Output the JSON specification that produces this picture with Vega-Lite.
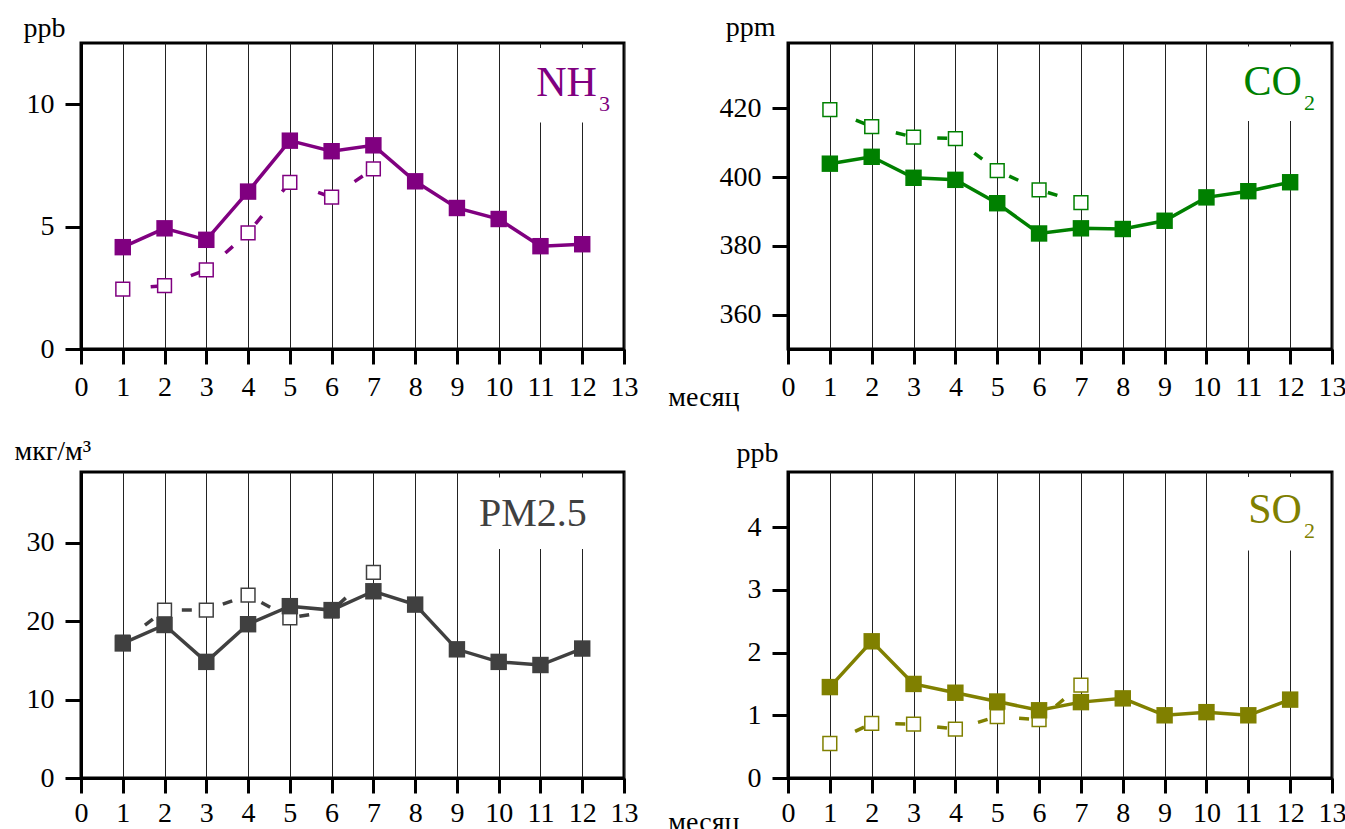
{
  "$schema": "https://vega.github.io/schema/vega-lite/v6.json",
  "background": "white",
  "padding": {"left": 12, "top": 11, "right": 0, "bottom": 0},
  "datasets": {
    "nh3": [
      {"month": 1, "s1": 4.16, "s2": 2.45}, {"month": 2, "s1": 4.93, "s2": 2.59}, {"month": 3, "s1": 4.46, "s2": 3.23},
      {"month": 4, "s1": 6.43, "s2": 4.74}, {"month": 5, "s1": 8.51, "s2": 6.81}, {"month": 6, "s1": 8.08, "s2": 6.2},
      {"month": 7, "s1": 8.32, "s2": 7.36}, {"month": 8, "s1": 6.85, "s2": null}, {"month": 9, "s1": 5.76, "s2": null},
      {"month": 10, "s1": 5.31, "s2": null}, {"month": 11, "s1": 4.2, "s2": null}, {"month": 12, "s1": 4.28, "s2": null}
    ],
    "co2": [
      {"month": 1, "s1": 403.9, "s2": 419.6}, {"month": 2, "s1": 405.9, "s2": 414.7}, {"month": 3, "s1": 399.8, "s2": 411.6},
      {"month": 4, "s1": 399.2, "s2": 411.2}, {"month": 5, "s1": 392.4, "s2": 401.9}, {"month": 6, "s1": 383.6, "s2": 396.3},
      {"month": 7, "s1": 385.1, "s2": 392.6}, {"month": 8, "s1": 384.9, "s2": null}, {"month": 9, "s1": 387.3, "s2": null},
      {"month": 10, "s1": 394.1, "s2": null}, {"month": 11, "s1": 395.9, "s2": null}, {"month": 12, "s1": 398.5, "s2": null}
    ],
    "pm25": [
      {"month": 1, "s1": 17.15, "s2": 17.3}, {"month": 2, "s1": 19.5, "s2": 21.4}, {"month": 3, "s1": 14.8, "s2": 21.4},
      {"month": 4, "s1": 19.6, "s2": 23.3}, {"month": 5, "s1": 21.9, "s2": 20.4}, {"month": 6, "s1": 21.4, "s2": 21.3},
      {"month": 7, "s1": 23.8, "s2": 26.2}, {"month": 8, "s1": 22.1, "s2": null}, {"month": 9, "s1": 16.4, "s2": null},
      {"month": 10, "s1": 14.8, "s2": null}, {"month": 11, "s1": 14.4, "s2": null}, {"month": 12, "s1": 16.5, "s2": null}
    ],
    "so2": [
      {"month": 1, "s1": 1.45, "s2": 0.55}, {"month": 2, "s1": 2.18, "s2": 0.87}, {"month": 3, "s1": 1.5, "s2": 0.86},
      {"month": 4, "s1": 1.36, "s2": 0.78}, {"month": 5, "s1": 1.22, "s2": 0.98}, {"month": 6, "s1": 1.08, "s2": 0.93},
      {"month": 7, "s1": 1.21, "s2": 1.48}, {"month": 8, "s1": 1.27, "s2": null}, {"month": 9, "s1": 1.0, "s2": null},
      {"month": 10, "s1": 1.05, "s2": null}, {"month": 11, "s1": 1.0, "s2": null}, {"month": 12, "s1": 1.25, "s2": null}
    ]
  },
  "config": {
    "font": "Liberation Serif",
    "view": {"stroke": "black", "strokeWidth": 3},
    "style": {
      "guide-label": {"font": "Liberation Serif", "fontSize": 28, "fill": "black"},
      "guide-title": {"font": "Liberation Serif", "fontSize": 28, "fontWeight": "normal", "fill": "black"}
    },
    "axis": {
      "labelFont": "Liberation Serif", "labelFontSize": 28, "labelColor": "black",
      "titleFont": "Liberation Serif", "titleFontSize": 28, "titleFontWeight": "normal", "titleColor": "black",
      "tickColor": "black", "tickWidth": 3, "domainColor": "black", "domainWidth": 3,
      "gridColor": "#222222", "gridWidth": 1, "labelOverlap": false, "labelFlush": false
    },
    "axisX": {"tickSize": 15, "orient": "bottom"},
    "axisY": {"tickSize": 16, "labelPadding": 11, "titleAngle": 0, "titleAlign": "right", "titleBaseline": "alphabetic"}
  },
  "columns": 2,
  "bounds": "flush",
  "spacing": {"row": 123, "column": 164},
  "concat": [
    {
      "width": 543, "height": 306,
      "layer": [
        {
          "data": {"values": [{}]},
          "mark": {"type": "rect", "color": "white"},
          "encoding": {
            "x": {"datum": 10.77, "type": "quantitative", "scale": {"domain": [0, 13], "nice": false},
                  "axis": {"values": [0,1,2,3,4,5,6,7,8,9,10,11,12,13], "title": null, "grid": true, "labelPadding": 9}},
            "x2": {"datum": 12.88},
            "y": {"datum": 9.25, "type": "quantitative", "scale": {"domain": [0, 12.5], "nice": false},
                  "axis": {"values": [0, 5, 10], "format": "d", "title": "ppb", "titleX": -16, "titleY": -7}},
            "y2": {"datum": 12.3}
          }
        },
        {
          "data": {"name": "nh3"},
          "mark": {"type": "line", "color": "#800080", "strokeWidth": 3.5, "strokeDash": [10, 32], "strokeDashOffset": 14},
          "encoding": {"x": {"field": "month", "type": "quantitative"}, "y": {"field": "s2", "type": "quantitative"}}
        },
        {
          "data": {"name": "nh3"},
          "mark": {"type": "square", "size": 190, "filled": true, "fill": "white", "stroke": "#800080", "strokeWidth": 1.5, "opacity": 1},
          "encoding": {"x": {"field": "month", "type": "quantitative"}, "y": {"field": "s2", "type": "quantitative"}}
        },
        {
          "data": {"name": "nh3"},
          "mark": {"type": "line", "color": "#800080", "strokeWidth": 3.5},
          "encoding": {"x": {"field": "month", "type": "quantitative"}, "y": {"field": "s1", "type": "quantitative"}}
        },
        {
          "data": {"name": "nh3"},
          "mark": {"type": "square", "size": 270, "filled": true, "color": "#800080", "opacity": 1},
          "encoding": {"x": {"field": "month", "type": "quantitative"}, "y": {"field": "s1", "type": "quantitative"}}
        },
        {
          "data": {"values": [{}]},
          "mark": {"type": "text", "text": "NH", "font": "Liberation Serif", "fontSize": 42, "color": "#800080", "align": "right", "baseline": "alphabetic"},
          "encoding": {"x": {"datum": 12.35, "type": "quantitative"}, "y": {"datum": 10.34, "type": "quantitative"}}
        },
        {
          "data": {"values": [{}]},
          "mark": {"type": "text", "text": "3", "font": "Liberation Serif", "fontSize": 22, "color": "#800080", "align": "left", "baseline": "alphabetic"},
          "encoding": {"x": {"datum": 12.4, "type": "quantitative"}, "y": {"datum": 9.73, "type": "quantitative"}}
        }
      ]
    },
    {
      "width": 544, "height": 306,
      "layer": [
        {
          "data": {"values": [{}]},
          "mark": {"type": "rect", "color": "white"},
          "encoding": {
            "x": {"datum": 10.85, "type": "quantitative", "scale": {"domain": [0, 13], "nice": false},
                  "axis": {"values": [0,1,2,3,4,5,6,7,8,9,10,11,12,13], "grid": true, "labelPadding": 9,
                           "title": "месяц", "titleX": -49, "titleY": 56, "titleAlign": "right", "titleBaseline": "alphabetic", "titleAngle": 0}},
            "x2": {"datum": 12.85},
            "y": {"datum": 416.3, "type": "quantitative", "scale": {"domain": [350, 439], "nice": false, "zero": false},
                  "axis": {"values": [360, 380, 400, 420], "format": "d", "title": "ppm", "titleX": -13, "titleY": -8}},
            "y2": {"datum": 438.0}
          }
        },
        {
          "data": {"name": "co2"},
          "mark": {"type": "line", "color": "#008000", "strokeWidth": 3.5, "strokeDash": [10, 32], "strokeDashOffset": 14},
          "encoding": {"x": {"field": "month", "type": "quantitative"}, "y": {"field": "s2", "type": "quantitative"}}
        },
        {
          "data": {"name": "co2"},
          "mark": {"type": "square", "size": 190, "filled": true, "fill": "white", "stroke": "#008000", "strokeWidth": 1.5, "opacity": 1},
          "encoding": {"x": {"field": "month", "type": "quantitative"}, "y": {"field": "s2", "type": "quantitative"}}
        },
        {
          "data": {"name": "co2"},
          "mark": {"type": "line", "color": "#008000", "strokeWidth": 3.5},
          "encoding": {"x": {"field": "month", "type": "quantitative"}, "y": {"field": "s1", "type": "quantitative"}}
        },
        {
          "data": {"name": "co2"},
          "mark": {"type": "square", "size": 270, "filled": true, "color": "#008000", "opacity": 1},
          "encoding": {"x": {"field": "month", "type": "quantitative"}, "y": {"field": "s1", "type": "quantitative"}}
        },
        {
          "data": {"values": [{}]},
          "mark": {"type": "text", "text": "CO", "font": "Liberation Serif", "fontSize": 42, "color": "#008000", "align": "right", "baseline": "alphabetic"},
          "encoding": {"x": {"datum": 12.28, "type": "quantitative"}, "y": {"datum": 423.9, "type": "quantitative"}}
        },
        {
          "data": {"values": [{}]},
          "mark": {"type": "text", "text": "2", "font": "Liberation Serif", "fontSize": 22, "color": "#008000", "align": "left", "baseline": "alphabetic"},
          "encoding": {"x": {"datum": 12.33, "type": "quantitative"}, "y": {"datum": 419.5, "type": "quantitative"}}
        }
      ]
    },
    {
      "width": 543, "height": 306,
      "layer": [
        {
          "data": {"values": [{}]},
          "mark": {"type": "rect", "color": "white"},
          "encoding": {
            "x": {"datum": 9.24, "type": "quantitative", "scale": {"domain": [0, 13], "nice": false},
                  "axis": {"values": [0,1,2,3,4,5,6,7,8,9,10,11,12,13], "title": null, "grid": true, "labelPadding": 6}},
            "x2": {"datum": 12.52},
            "y": {"datum": 29.2, "type": "quantitative", "scale": {"domain": [0, 39], "nice": false},
                  "axis": {"values": [0, 10, 20, 30], "format": "d", "title": "мкг/м³", "titleAlign": "left", "titleX": -67, "titleY": -13}},
            "y2": {"datum": 38.3}
          }
        },
        {
          "data": {"name": "pm25"},
          "mark": {"type": "line", "color": "#404040", "strokeWidth": 3.5, "strokeDash": [10, 32], "strokeDashOffset": 14},
          "encoding": {"x": {"field": "month", "type": "quantitative"}, "y": {"field": "s2", "type": "quantitative"}}
        },
        {
          "data": {"name": "pm25"},
          "mark": {"type": "square", "size": 190, "filled": true, "fill": "white", "stroke": "#404040", "strokeWidth": 1.5, "opacity": 1},
          "encoding": {"x": {"field": "month", "type": "quantitative"}, "y": {"field": "s2", "type": "quantitative"}}
        },
        {
          "data": {"name": "pm25"},
          "mark": {"type": "line", "color": "#404040", "strokeWidth": 3.5},
          "encoding": {"x": {"field": "month", "type": "quantitative"}, "y": {"field": "s1", "type": "quantitative"}}
        },
        {
          "data": {"name": "pm25"},
          "mark": {"type": "square", "size": 270, "filled": true, "color": "#404040", "opacity": 1},
          "encoding": {"x": {"field": "month", "type": "quantitative"}, "y": {"field": "s1", "type": "quantitative"}}
        },
        {
          "data": {"values": [{}]},
          "mark": {"type": "text", "text": "PM2.5", "font": "Liberation Serif", "fontSize": 40, "color": "#404040", "align": "right", "baseline": "alphabetic"},
          "encoding": {"x": {"datum": 12.11, "type": "quantitative"}, "y": {"datum": 32.1, "type": "quantitative"}}
        }
      ]
    },
    {
      "width": 544, "height": 306,
      "layer": [
        {
          "data": {"values": [{}]},
          "mark": {"type": "rect", "color": "white"},
          "encoding": {
            "x": {"datum": 10.9, "type": "quantitative", "scale": {"domain": [0, 13], "nice": false},
                  "axis": {"values": [0,1,2,3,4,5,6,7,8,9,10,11,12,13], "grid": true, "labelPadding": 6,
                           "title": "месяц", "titleX": -49, "titleY": 52, "titleAlign": "right", "titleBaseline": "alphabetic", "titleAngle": 0}},
            "x2": {"datum": 12.76},
            "y": {"datum": 3.63, "type": "quantitative", "scale": {"domain": [0, 4.88], "nice": false},
                  "axis": {"values": [0, 1, 2, 3, 4], "format": "d", "title": "ppb", "titleX": -10, "titleY": -11}},
            "y2": {"datum": 4.8}
          }
        },
        {
          "data": {"name": "so2"},
          "mark": {"type": "line", "color": "#808000", "strokeWidth": 3.5, "strokeDash": [10, 32], "strokeDashOffset": 14},
          "encoding": {"x": {"field": "month", "type": "quantitative"}, "y": {"field": "s2", "type": "quantitative"}}
        },
        {
          "data": {"name": "so2"},
          "mark": {"type": "square", "size": 190, "filled": true, "fill": "white", "stroke": "#808000", "strokeWidth": 1.5, "opacity": 1},
          "encoding": {"x": {"field": "month", "type": "quantitative"}, "y": {"field": "s2", "type": "quantitative"}}
        },
        {
          "data": {"name": "so2"},
          "mark": {"type": "line", "color": "#808000", "strokeWidth": 3.5},
          "encoding": {"x": {"field": "month", "type": "quantitative"}, "y": {"field": "s1", "type": "quantitative"}}
        },
        {
          "data": {"name": "so2"},
          "mark": {"type": "square", "size": 270, "filled": true, "color": "#808000", "opacity": 1},
          "encoding": {"x": {"field": "month", "type": "quantitative"}, "y": {"field": "s1", "type": "quantitative"}}
        },
        {
          "data": {"values": [{}]},
          "mark": {"type": "text", "text": "SO", "font": "Liberation Serif", "fontSize": 42, "color": "#808000", "align": "right", "baseline": "alphabetic"},
          "encoding": {"x": {"datum": 12.28, "type": "quantitative"}, "y": {"datum": 4.06, "type": "quantitative"}}
        },
        {
          "data": {"values": [{}]},
          "mark": {"type": "text", "text": "2", "font": "Liberation Serif", "fontSize": 22, "color": "#808000", "align": "left", "baseline": "alphabetic"},
          "encoding": {"x": {"datum": 12.33, "type": "quantitative"}, "y": {"datum": 3.82, "type": "quantitative"}}
        }
      ]
    }
  ]
}
